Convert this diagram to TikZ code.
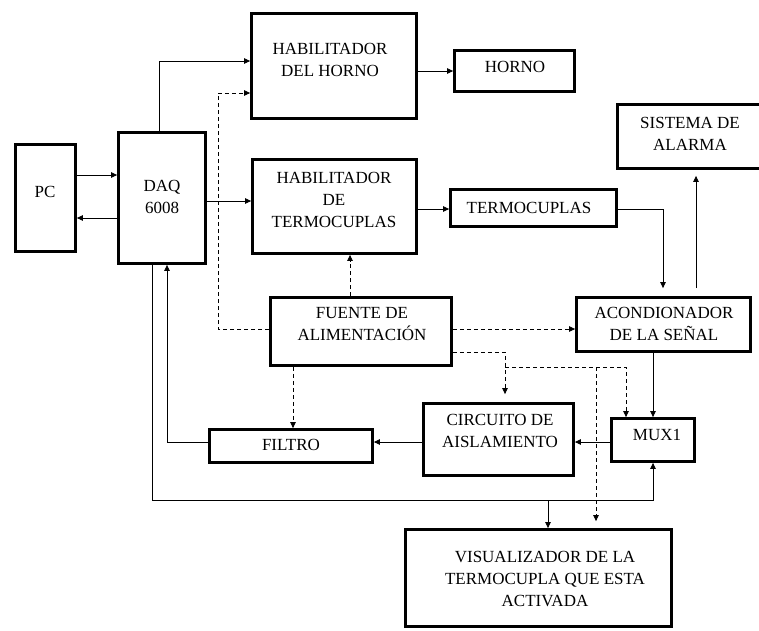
\documentclass[tikz,border=0pt]{standalone}
\usepackage{fontspec}
\setmainfont{Liberation Serif}
\newfontfamily\tnrfont{Liberation Serif}
\usetikzlibrary{arrows.meta,calc}
\begin{document}
\begin{tikzpicture}[x=1pt,y=-1pt,
 box/.style={draw,line width=2.8pt,inner sep=0pt},
 lbl/.style={font=\tnrfont\fontsize{17}{22}\selectfont,align=center,inner sep=0pt},
 ln/.style={line width=0.8pt},
 arr/.style={line width=0.8pt,-{Triangle[length=6pt,width=5.5pt]}},
 dsh/.style={line width=0.8pt,dash pattern=on 4pt off 3pt}]
\useasboundingbox (0,0) rectangle (759,630);
\clip (0,0) rectangle (759,630);
% boxes
\node[box,minimum width=60pt,minimum height=107pt] (pc) at (45.5,198) {};
\node[box,minimum width=87pt,minimum height=131pt] (daq) at (162,198) {};
\node[box,minimum width=165pt,minimum height=105pt] (hh) at (334,66) {};
\node[box,minimum width=164pt,minimum height=94pt] (ht) at (334.5,206.5) {};
\node[box,minimum width=120pt,minimum height=41pt] (horno) at (514.5,71) {};
\node[box,minimum width=151pt,minimum height=64pt] (al) at (693,136.5) {};
\node[box,minimum width=166pt,minimum height=37pt] (tc) at (533.5,208) {};
\node[box,minimum width=174pt,minimum height=54pt] (ac) at (663.5,324.5) {};
\node[box,minimum width=181pt,minimum height=68pt] (fu) at (361,331.5) {};
\node[box,minimum width=150pt,minimum height=72pt] (ci) at (498.5,439.5) {};
\node[box,minimum width=83pt,minimum height=43pt] (mux) at (653,440) {};
\node[box,minimum width=163pt,minimum height=33pt] (fi) at (291,446) {};
\node[box,minimum width=266pt,minimum height=97pt] (vis) at (538.5,578) {};
% labels
\node[lbl] (tpc) at (45,192) {PC};
\node[lbl] (tdaq) at (162,197) {DAQ\\6008};
\node[lbl] (thh) at (330,60) {HABILITADOR\\DEL HORNO};
\node[lbl] (tht) at (334,200) {HABILITADOR\\DE\\TERMOCUPLAS};
\node[lbl] (thorno) at (515,67) {HORNO};
\node[lbl] (tal) at (690,134) {SISTEMA DE\\ALARMA};
\node[lbl] (ttc) at (529,208) {TERMOCUPLAS};
\node[lbl] (tac) at (664,324) {ACONDIONADOR\\DE LA SEÑAL};
\node[lbl] (tfu) at (362,324) {FUENTE DE\\ALIMENTACIÓN};
\node[lbl] (tci) at (500,431) {CIRCUITO DE\\AISLAMIENTO};
\node[lbl] (tmux) at (657,435) {MUX1};
\node[lbl] (tfi) at (291,445) {FILTRO};
\node[lbl] (tvis) at (545,579) {VISUALIZADOR DE LA\\TERMOCUPLA QUE ESTA\\ACTIVADA};
% solid connectors
\draw[arr] (pc.east |- 0,175) -- (daq.west |- 0,175);
\draw[arr] (daq.west |- 0,218) -- (pc.east |- 0,218);
\draw[arr] (daq.north -| 159,0) |- (hh.west |- 0,61);
\draw[arr] (daq.east |- 0,201) -- (ht.west |- 0,201);
\draw[arr] (hh.east |- 0,71) -- (horno.west |- 0,71);
\draw[arr] (ht.east |- 0,209) -- (tc.west |- 0,209);
\draw[arr,shorten >=8pt] (tc.east |- 0,209) -| (ac.north -| 663,0);
\draw[arr,shorten <=8pt,shorten >=6pt] (ac.north -| 696,0) -- (al.south -| 696,0);
\draw[arr] (ac.south -| 653,0) -- (mux.north -| 653,0);
\draw[arr] (mux.west |- 0,442) -- (ci.east |- 0,442);
\draw[arr] (ci.west |- 0,442) -- (fi.east |- 0,442);
\draw[arr] (fi.west |- 0,442) -| (daq.south -| 167,0);
\draw[arr] (daq.south -| 152,0) -- (152,500) -- (653,500) -- (mux.south -| 653,0);
\draw[arr] (548,500) -- (vis.north -| 548,0);
% dashed connectors
\draw[dsh,arr] (fu.west |- 0,329) -| (218,93) -- (hh.west |- 0,93);
\draw[dsh,arr] (fu.north -| 350,0) -- (ht.south -| 350,0);
\draw[dsh,arr] (fu.east |- 0,329) -- (ac.west |- 0,329);
\draw[dsh,arr,shorten >=8pt] (fu.east |- 0,352) -| (ci.north -| 505,0);
\draw[dsh,arr] (505,367) -| (mux.north -| 626,0);
\draw[dsh,arr,shorten >=7pt] (596,367) -- (vis.north -| 596,0);
\draw[dsh,arr] (fu.south -| 293,0) -- (fi.north -| 293,0);
\end{tikzpicture}
\end{document}
